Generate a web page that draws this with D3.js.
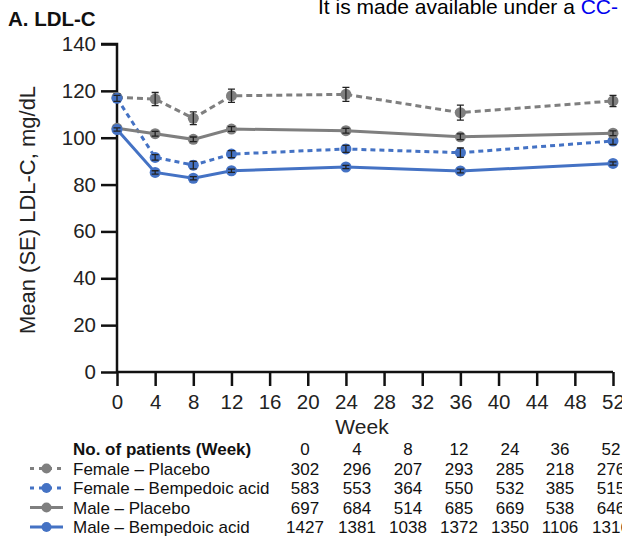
<!DOCTYPE html>
<html><head><meta charset="utf-8">
<script src="https://cdn.jsdelivr.net/npm/d3@7"></script>
<style>
html,body{margin:0;padding:0;background:#fff;}
svg{display:block;font-family:"Liberation Sans",Arial,sans-serif;}
</style></head>
<body><svg id="c" width="622" height="539"></svg>
<script>
const weeks = [0, 4, 8, 12, 24, 36, 52];
const xTicks = [0,4,8,12,16,20,24,28,32,36,40,44,48,52];
const yTicks = [0,20,40,60,80,100,120,140];
const seriesNames = ["Female \u2013 Placebo","Female \u2013 Bempedoic acid","Male \u2013 Placebo","Male \u2013 Bempedoic acid"];
const femalePlacebo = [117.2, 116.5, 108.3, 117.9, 118.5, 110.7, 115.7];
const femalePlaceboSE = [1.5, 2.8, 2.7, 2.8, 3.0, 3.2, 2.4];
const femaleBempedoic = [116.8, 91.6, 88.3, 93.0, 95.2, 93.6, 98.6];
const femaleBempedoicSE = [1.3, 1.2, 1.6, 1.5, 1.5, 2.0, 1.5];
const malePlacebo = [104.0, 101.7, 99.3, 103.7, 103.0, 100.4, 101.9];
const malePlaceboSE = [1.0, 1.0, 1.0, 1.0, 1.0, 1.2, 1.0];
const maleBempedoic = [103.5, 85.2, 82.7, 85.9, 87.5, 85.8, 89.0];
const maleBempedoicSE = [0.7, 0.7, 0.7, 0.7, 0.7, 0.8, 0.7];
const nFemalePlacebo = [302, 296, 207, 293, 285, 218, 276];
const nFemaleBempedoic = [583, 553, 364, 550, 532, 385, 515];
const nMalePlacebo = [697, 684, 514, 685, 669, 538, 646];
const nMaleBempedoic = [1427, 1381, 1038, 1372, 1350, 1106, 1316];

const GREY = "#7f7f7f", BLUE = "#4472c4";
const series = [
  {name: seriesNames[0], v: femalePlacebo, se: femalePlaceboSE, n: nFemalePlacebo, color: GREY, dash: "6,4"},
  {name: seriesNames[1], v: femaleBempedoic, se: femaleBempedoicSE, n: nFemaleBempedoic, color: BLUE, dash: "5,4"},
  {name: seriesNames[2], v: malePlacebo, se: malePlaceboSE, n: nMalePlacebo, color: GREY, dash: null},
  {name: seriesNames[3], v: maleBempedoic, se: maleBempedoicSE, n: nMaleBempedoic, color: BLUE, dash: null}
];

const svg = d3.select("#c");
const x = d3.scaleLinear().domain([0, 52]).range([117, 613]);
const y = d3.scaleLinear().domain([0, 140]).range([372, 44]);

// watermark & title
const wm = svg.append("text").attr("x", 318).attr("y", 14).attr("font-size", 21).attr("fill", "#000");
wm.append("tspan").text("It is made available under a ");
wm.append("tspan").attr("fill", "#0000ee").text("CC-");
svg.append("text").attr("x", 8).attr("y", 26).attr("font-size", 20.5).attr("font-weight", "bold").attr("fill", "#111").text("A. LDL-C");

// axes
const yAxis = svg.append("g").attr("transform", "translate(117,0)")
  .call(d3.axisLeft(y).tickValues(yTicks).tickSize(16).tickPadding(5));
const xAxis = svg.append("g").attr("transform", "translate(0,372)")
  .call(d3.axisBottom(x).tickValues(xTicks).tickSize(14).tickPadding(8));
[yAxis, xAxis].forEach(g => {
  g.select(".domain").attr("stroke", "#111").attr("stroke-width", 2.5);
  g.selectAll(".tick line").attr("stroke", "#111").attr("stroke-width", 2.5);
  g.selectAll(".tick text").attr("font-size", 20.5).attr("fill", "#222").attr("font-family", "Liberation Sans, Arial, sans-serif");
});
yAxis.select(".domain").attr("d", "M-16,44H0V372");
xAxis.select(".domain").attr("d", "M117,0H613");

svg.append("text").attr("transform", "translate(35,210) rotate(-90)").attr("text-anchor", "middle")
  .attr("font-size", 22).attr("fill", "#222").text("Mean (SE) LDL-C, mg/dL");
svg.append("text").attr("x", 362).attr("y", 434).attr("text-anchor", "middle")
  .attr("font-size", 21).attr("fill", "#222").text("Week");

// lines
const line = d3.line().x((d, i) => x(weeks[i])).y(d => y(d));
series.forEach(s => {
  const g = svg.append("g");
  g.append("path").datum(s.v).attr("d", line).attr("fill", "none")
    .attr("stroke", s.color).attr("stroke-width", 3).attr("stroke-dasharray", s.dash);
  g.selectAll("circle").data(s.v).join("circle")
    .attr("cx", (d, i) => x(weeks[i])).attr("cy", d => y(d)).attr("r", 5.5).attr("fill", s.color);
  s.v.forEach((d, i) => {
    const cx = x(weeks[i]), y1 = y(d - s.se[i]), y2 = y(d + s.se[i]);
    g.append("path").attr("d", `M${cx},${y1}V${y2}M${cx-3.5},${y1}H${cx+3.5}M${cx-3.5},${y2}H${cx+3.5}`)
      .attr("stroke", "#222").attr("stroke-width", 1.3).attr("fill", "none");
  });
});

// patient table
const colX = [305, 357, 408, 459, 510, 560, 611];
const rowY = [455, 474.5, 494, 513.5, 533];
svg.append("text").attr("x", 73).attr("y", rowY[0]).attr("font-size", 17).attr("font-weight", "bold")
  .attr("fill", "#111").text("No. of patients (Week)");
weeks.forEach((w, i) => svg.append("text").attr("x", colX[i]).attr("y", rowY[0]).attr("text-anchor", "middle")
  .attr("font-size", 17).attr("fill", "#111").text(w));
series.forEach((s, r) => {
  const yy = rowY[r + 1];
  svg.append("line").attr("x1", 30).attr("x2", 63).attr("y1", yy - 6).attr("y2", yy - 6)
    .attr("stroke", s.color).attr("stroke-width", 3).attr("stroke-dasharray", s.dash ? "4,5" : null);
  svg.append("circle").attr("cx", 46.5).attr("cy", yy - 6).attr("r", 5).attr("fill", s.color);
  svg.append("text").attr("x", 73).attr("y", yy).attr("font-size", 17).attr("fill", "#111").text(s.name);
  s.n.forEach((n, i) => svg.append("text").attr("x", colX[i]).attr("y", yy).attr("text-anchor", "middle")
    .attr("font-size", 17).attr("fill", "#111").text(n));
});
</script></body></html>
